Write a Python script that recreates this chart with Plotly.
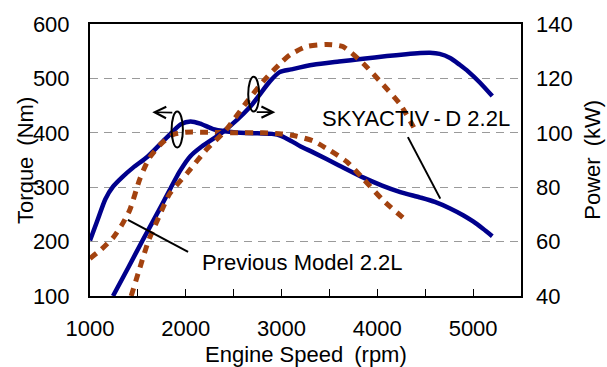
import plotly.graph_objects as go

# ---------------- data ----------------
rpm_sky_torque = [1000, 1080, 1160, 1240, 1340, 1450, 1600, 1800, 1950, 2050, 2150, 2300, 2500, 2750, 2900, 3000, 3100, 3200, 3330, 3600, 3850, 4050, 4240, 4450, 4600, 4760, 4900, 5000, 5100, 5200]
sky_torque = [202, 240, 278, 301, 319, 336, 356, 391, 416, 421, 417, 406, 401, 399, 398, 394, 385, 375, 364, 340, 318, 303, 291, 281, 273, 261, 248, 237, 224, 210]

rpm_sky_power = [1240, 1400, 1550, 1750, 1940, 2050, 2150, 2390, 2670, 2880, 2980, 3100, 3330, 3600, 3850, 4100, 4300, 4450, 4550, 4650, 4760, 4860, 4950, 5070, 5200]
sky_power = [40, 50.5, 60.5, 73.5, 86, 91.5, 94.5, 100.4, 109.5, 119, 122.3, 123.3, 125, 126.2, 127.2, 128.2, 128.9, 129.3, 129.4, 129.0, 127.5, 125, 122.5, 118.5, 113.5]

rpm_prev_torque = [1000, 1120, 1240, 1330, 1415, 1520, 1620, 1750, 1870, 2000, 2200, 2500, 2800, 3000, 3150, 3330, 3500, 3680, 3850, 4060, 4280]
prev_torque = [169, 186, 207, 230, 258, 315, 354, 381, 397, 401, 401, 400, 400, 398, 394, 385, 368, 347, 316, 276, 242]

rpm_prev_power = [1430, 1520, 1610, 1750, 1830, 2020, 2220, 2410, 2630, 2810, 3000, 3090, 3260, 3470, 3640, 3850, 4060, 4240, 4380]
prev_power = [40, 50.3, 60.2, 71.5, 77.5, 85.4, 94, 100.6, 111, 119, 126, 128.7, 131.7, 132.5, 131.7, 125.6, 117.7, 110.4, 102]

x_tick_vals = [1000, 2000, 3000, 4000, 5000]
torque_tick_vals = [100, 200, 300, 400, 500, 600]
power_tick_vals = [40, 60, 80, 100, 120, 140]

label_sky = "SKYACTIV\u2009-\u2009D 2.2L"
label_prev = "Previous Model 2.2L"
title_x = "Engine Speed\u2002(rpm)"
title_torque = "Torque\u2002(Nm)"
title_power = "Power\u2002(kW)"

# ---------------- styles ----------------
BLUE = "#00008C"
BROWN = "#A3420F"
FONT = "Liberation Sans, Arial, sans-serif"
FS = 22

fig = go.Figure()

blue_line = dict(color=BLUE, width=4.5, shape="spline", smoothing=0.7)
brown_line = dict(color=BROWN, width=5, dash="8px,7px", shape="spline", smoothing=0.6)

fig.add_trace(go.Scatter(x=rpm_sky_torque, y=sky_torque, mode="lines", line=blue_line, yaxis="y", showlegend=False, hoverinfo="skip"))
fig.add_trace(go.Scatter(x=rpm_sky_power, y=sky_power, mode="lines", line=blue_line, yaxis="y2", showlegend=False, hoverinfo="skip"))
fig.add_trace(go.Scatter(x=rpm_prev_torque, y=prev_torque, mode="lines", line=brown_line, yaxis="y", showlegend=False, hoverinfo="skip"))
fig.add_trace(go.Scatter(x=rpm_prev_power, y=prev_power, mode="lines", line=brown_line, yaxis="y2", showlegend=False, hoverinfo="skip"))

shapes = [
    # ellipses marking which curve belongs to which axis
    dict(type="circle", xref="x", yref="y", x0=1852, x1=1970, y0=373, y1=439,
         line=dict(color="black", width=2)),
    dict(type="circle", xref="x", yref="y", x0=2652, x1=2766, y0=439, y1=503,
         line=dict(color="black", width=2)),
    # callout leader lines
    dict(type="line", xref="x", yref="y", x0=1396, y0=240, x1=2024, y1=181,
         line=dict(color="black", width=2)),
    dict(type="line", xref="x", yref="y", x0=4319, y0=392, x1=4657, y1=279,
         line=dict(color="black", width=2)),
]

annotations = [
    # arrows
    dict(x=1650, y=438, ax=1875, ay=437, xref="x", yref="y", axref="x", ayref="y",
         text="", showarrow=True, arrowhead=5, arrowsize=1.4, arrowwidth=1.6, arrowcolor="black"),
    dict(x=2935, y=438, ax=2725, ay=438, xref="x", yref="y", axref="x", ayref="y",
         text="", showarrow=True, arrowhead=5, arrowsize=1.4, arrowwidth=1.6, arrowcolor="black"),
    # series labels
    dict(x=3402, y=426, xref="x", yref="y", text=label_sky, showarrow=False,
         xanchor="left", yanchor="middle", font=dict(family=FONT, size=FS, color="black")),
    dict(x=2149, y=162, xref="x", yref="y", text=label_prev, showarrow=False,
         xanchor="left", yanchor="middle", font=dict(family=FONT, size=FS, color="black")),
    # axis titles
    dict(x=0.5, y=-0.215, xref="paper", yref="paper", text=title_x, showarrow=False,
         xanchor="center", yanchor="middle", font=dict(family=FONT, size=FS, color="black")),
    dict(x=-0.151, y=0.5, xref="paper", yref="paper", text=title_torque, showarrow=False,
         textangle=-90, xanchor="center", yanchor="middle", font=dict(family=FONT, size=FS, color="black")),
    dict(x=1.164, y=0.5, xref="paper", yref="paper", text=title_power, showarrow=False,
         textangle=-90, xanchor="center", yanchor="middle", font=dict(family=FONT, size=FS, color="black")),
]

fig.update_layout(
    width=607, height=367,
    margin=dict(l=90, r=86, t=22, b=71, pad=0),
    paper_bgcolor="white", plot_bgcolor="white",
    font=dict(family=FONT, size=FS, color="black"),
    shapes=shapes, annotations=annotations,
    xaxis=dict(range=[1000, 5500], tickvals=x_tick_vals, ticks="inside", ticklen=7,
               tickwidth=1.2, tickcolor="black",
               minor=dict(tick0=1000, dtick=500, ticks="inside", ticklen=7, tickwidth=1.2, tickcolor="black", showgrid=False),
               showgrid=False, zeroline=False, showline=True, mirror=True,
               linecolor="black", linewidth=2, ticklabelstandoff=12,
               tickfont=dict(family=FONT, size=FS, color="black")),
    yaxis=dict(range=[100, 600], tickvals=torque_tick_vals, ticks="", showgrid=True,
               gridcolor="#9a9a9a", griddash="8px,6px", gridwidth=1,
               zeroline=False, showline=True, mirror=True, linecolor="black", linewidth=2,
               ticklabelstandoff=14, tickfont=dict(family=FONT, size=FS, color="black")),
    yaxis2=dict(range=[40, 140], tickvals=power_tick_vals, overlaying="y", side="right",
                ticks="", showgrid=False, zeroline=False, showline=False,
                ticklabelstandoff=14, tickfont=dict(family=FONT, size=FS, color="black")),
)

fig.write_html("out.html")
